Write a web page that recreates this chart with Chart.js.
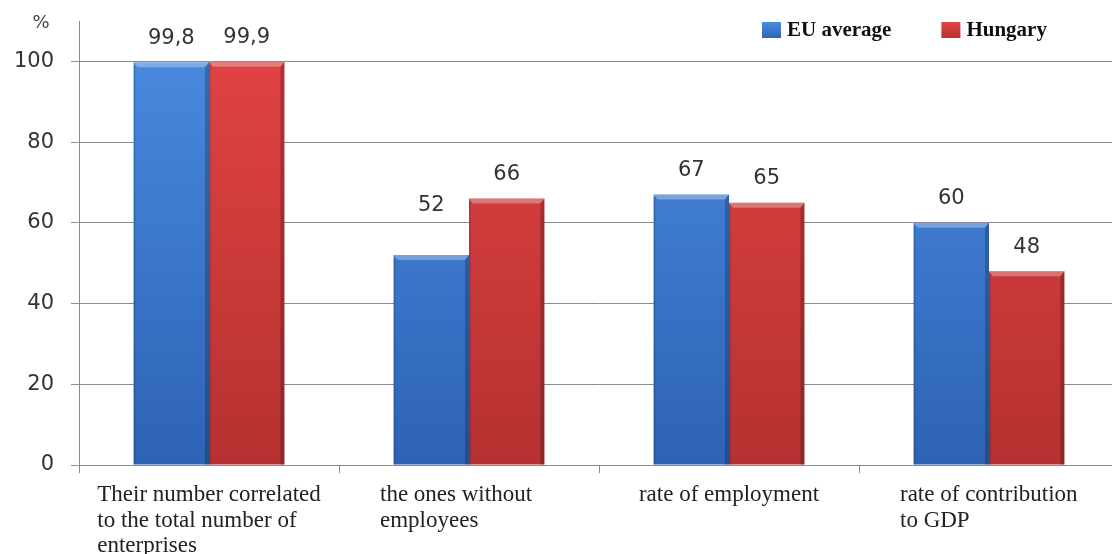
<!DOCTYPE html>
<html>
<head>
<meta charset="utf-8">
<title>SME share: EU average vs Hungary</title>
<script src="https://cdn.jsdelivr.net/npm/chart.js@4.4.1/dist/chart.umd.min.js"></script>
<style>
  html, body { margin: 0; padding: 0; background: #fff; overflow: hidden; }
  #wrap { position: absolute; left: 0; top: 0; width: 1121px; height: 554px; }
</style>
</head>
<body>
<div id="wrap"><canvas id="smeChart"></canvas></div>
<script>
// categories (multi-line labels)
const categories = [
  ["Their number correlated", "to the total number of", "enterprises"],
  ["the ones without", "employees"],
  ["rate of employment"],
  ["rate of contribution", "to GDP"]
];
const seriesNames = ["EU average", "Hungary"];
const euAverage = [99.8, 52, 67, 60];
const hungary = [99.9, 66, 65, 48];
const yTicks = [0, 20, 40, 60, 80, 100];

const axisGray = "#8c8c8c";
const sansFont = "'DejaVu Sans', sans-serif";
const serifFont = "'Liberation Serif', 'Times New Roman', serif";

// vertical gradient for the bar fill
function barFill(top, bottom) {
  return (ctx) => {
    const area = ctx.chart.chartArea;
    if (!area) return bottom;
    const g = ctx.chart.ctx.createLinearGradient(0, area.top, 0, area.bottom);
    g.addColorStop(0, top);
    g.addColorStop(1, bottom);
    return g;
  };
}

const palette = [
  { top: "#4a8ce2", bottom: "#2e63b4" },
  { top: "#e44444", bottom: "#b53131" }
];

function fmt(v) {
  return String(v).replace(".", ",");
}

// bevel edges, value labels, the % sign, category text and the legend
const decorPlugin = {
  id: "decor",
  afterDatasetsDraw(chart, args, opts) {
    const ctx = chart.ctx;
    const area = chart.chartArea;
    ctx.save();

    chart.getSortedVisibleDatasetMetas().forEach((meta) => {
      meta.data.forEach((bar) => {
        const { x, y, base, width } = bar.getProps(["x", "y", "base", "width"], true);
        const l = x - width / 2;
        const r = x + width / 2;
        // light strip on top
        ctx.fillStyle = "rgba(255,255,255,0.30)";
        ctx.beginPath();
        ctx.moveTo(l, y);
        ctx.lineTo(r, y);
        ctx.lineTo(r - 4, y + 5);
        ctx.lineTo(l + 4, y + 5);
        ctx.closePath();
        ctx.fill();
        // dark right edge
        ctx.fillStyle = "rgba(0,0,0,0.22)";
        ctx.beginPath();
        ctx.moveTo(r, y);
        ctx.lineTo(r, base);
        ctx.lineTo(r - 4, base);
        ctx.lineTo(r - 4, y + 5);
        ctx.closePath();
        ctx.fill();
        // thin left edge
        ctx.fillStyle = "rgba(0,0,0,0.12)";
        ctx.fillRect(l, y + 3, 2, base - y - 3);
      });
    });

    // value labels above the bars
    ctx.font = "21px " + sansFont;
    ctx.fillStyle = "#333";
    ctx.textAlign = "center";
    ctx.textBaseline = "middle";
    chart.getSortedVisibleDatasetMetas().forEach((meta) => {
      const values = chart.data.datasets[meta.index].data;
      meta.data.forEach((bar, i) => {
        const lift = opts.raise[meta.index + "-" + i] || 0;
        ctx.fillText(fmt(values[i]), bar.x, bar.y - 24 - lift);
      });
    });

    // % sign above the value axis
    ctx.font = "18px " + sansFont;
    ctx.fillStyle = "#444";
    ctx.fillText("%", area.left - 38, area.top + 2);

    // category text under the axis, left aligned inside a centred block
    const xScale = chart.scales.x;
    ctx.font = "23px " + serifFont;
    ctx.fillStyle = "#222";
    ctx.textAlign = "left";
    ctx.textBaseline = "alphabetic";
    chart.data.labels.forEach((lines, i) => {
      const cx = xScale.getPixelForValue(i);
      const w = Math.max(178, ...lines.map((t) => ctx.measureText(t).width));
      const left = cx - w / 2;
      lines.forEach((t, k) => {
        ctx.fillText(t, left, area.bottom + 36 + k * 25.5);
      });
    });

    // legend
    ctx.font = "bold 21px " + serifFont;
    ctx.textBaseline = "middle";
    let lx = opts.legendX;
    chart.data.datasets.forEach((ds, i) => {
      const g = ctx.createLinearGradient(0, 22, 0, 38);
      g.addColorStop(0, palette[i].top);
      g.addColorStop(1, palette[i].bottom);
      ctx.fillStyle = g;
      ctx.fillRect(lx, 22, 19, 16);
      ctx.fillStyle = "#111";
      ctx.fillText(ds.label, lx + 25, 31);
      lx += 25 + ctx.measureText(ds.label).width + 50;
    });

    ctx.restore();
  }
};

const ctx = document.getElementById("smeChart").getContext("2d");
new Chart(ctx, {
  type: "bar",
  data: {
    labels: categories,
    datasets: [
      {
        label: seriesNames[0],
        data: euAverage,
        backgroundColor: barFill(palette[0].top, palette[0].bottom),
        borderWidth: 0
      },
      {
        label: seriesNames[1],
        data: hungary,
        backgroundColor: barFill(palette[1].top, palette[1].bottom),
        borderWidth: 0
      }
    ]
  },
  options: {
    responsive: true,
    maintainAspectRatio: false,
    animation: false,
    datasets: {
      bar: { categoryPercentage: 0.58, barPercentage: 1.0 }
    },
    layout: { padding: { top: 21, right: 2, left: 0, bottom: 0 } },
    plugins: {
      legend: { display: false },
      tooltip: { enabled: false },
      decor: { raise: { "0-1": 26 }, legendX: 762 }
    },
    scales: {
      x: {
        grid: {
          drawOnChartArea: false,
          drawTicks: true,
          tickLength: 8,
          color: axisGray
        },
        border: { color: axisGray },
        ticks: { display: false },
        afterFit(scale) {
          scale.height = 89;
        }
      },
      y: {
        min: 0,
        max: 110,
        afterBuildTicks(scale) {
          scale.ticks = yTicks.map((v) => ({ value: v }));
        },
        grid: { color: axisGray, tickLength: 8 },
        border: { color: axisGray },
        ticks: {
          padding: 17,
          color: "#333",
          font: { family: sansFont, size: 21 }
        },
        afterFit(scale) {
          scale.width = 79;
          // the tick padding would otherwise be added above the top tick
          scale.paddingTop = 0;
          scale.paddingBottom = 0;
        }
      }
    }
  },
  plugins: [decorPlugin]
});
</script>
</body>
</html>
